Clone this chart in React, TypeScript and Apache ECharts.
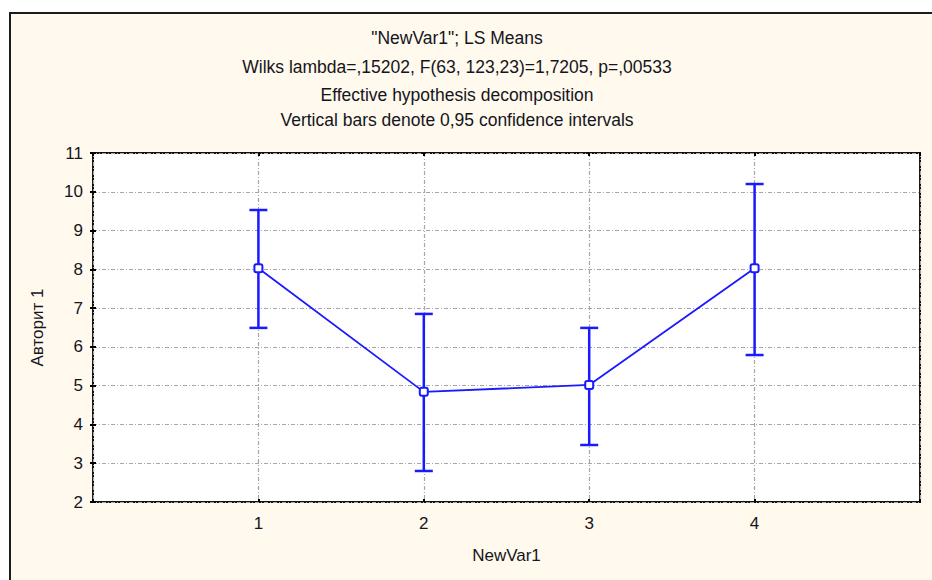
import React, { useEffect, useRef } from "react";
import * as echarts from "echarts";

const categories = ["1", "2", "3", "4"];
const means = [8.03, 4.84, 5.02, 8.03];
const lower = [6.49, 2.8, 3.47, 5.79];
const upper = [9.53, 6.85, 6.49, 10.2];
const yMin = 2;
const yMax = 11;
const titleLines = [
  '"NewVar1"; LS Means',
  "Wilks lambda=,15202, F(63, 123,23)=1,7205, p=,00533",
  "Effective hypothesis decomposition",
  "Vertical bars denote 0,95 confidence intervals",
];
const xName = "NewVar1";
const yName = "Авторит 1";

const FONT = "Liberation Sans, Arial, sans-serif";
const BLUE = "#1a1aff";
const TEXT = "#151520";

export default function App() {
  const ref = useRef<HTMLDivElement>(null);
  useEffect(() => {
    if (!ref.current) return;
    const chart = echarts.init(ref.current, null, { renderer: "svg" });
    const xs = categories.map((_, i) => i + 1);
    const lineData = xs.map((x, i) => [x, means[i]]);
    const errData = xs.map((x, i) => [x, lower[i], upper[i]]);
    const titleY = [38, 67, 95, 120];
    const gridLine = { show: true, lineStyle: { color: "#a6a6a6", type: [4, 2, 1, 2], width: 1.2 } };
    chart.setOption({
      animation: false,
      backgroundColor: "#ffffff",
      textStyle: { fontFamily: FONT },
      graphic: [
        {
          type: "rect",
          z: -10,
          shape: { x: 10, y: 13, width: 940, height: 600 },
          style: { fill: "#fff9ee", stroke: "#1c1c1c", lineWidth: 2 },
        },
        ...titleLines.map((t, i) => ({
          type: "text",
          x: 457,
          y: titleY[i],
          style: {
            text: t,
            fill: TEXT,
            font: `17.5px ${FONT}`,
            textAlign: "center",
            textVerticalAlign: "middle",
          },
        })),
      ],
      grid: {
        show: true,
        left: 93,
        top: 153,
        right: 12,
        bottom: 78,
        backgroundColor: "#ffffff",
        borderColor: "#111",
        borderWidth: 2,
        containLabel: false,
      },
      xAxis: [
        {
          type: "value",
          min: 0,
          max: categories.length + 1,
          interval: 1,
          name: xName,
          nameLocation: "middle",
          nameGap: 45,
          nameTextStyle: { color: TEXT, fontSize: 17, fontFamily: FONT },
          axisLine: { show: false },
          axisTick: { show: true, inside: true, length: 3, lineStyle: { color: "#000", width: 2 } },
          axisLabel: {
            color: TEXT,
            fontSize: 17,
            fontFamily: FONT,
            margin: 13,
            formatter: (v: number) => (v >= 1 && v <= categories.length ? categories[v - 1] : ""),
          },
          splitLine: gridLine,
        },
        {
          type: "value",
          position: "top",
          min: 0,
          max: categories.length + 1,
          interval: 1,
          axisLine: { show: false },
          axisTick: { show: true, inside: true, length: 3, lineStyle: { color: "#000", width: 2 } },
          axisLabel: { show: false },
          splitLine: { show: false },
        },
      ],
      yAxis: [
        {
          type: "value",
          min: yMin,
          max: yMax,
          interval: 1,
          name: yName,
          nameLocation: "middle",
          nameRotate: 90,
          nameGap: 47,
          nameTextStyle: { color: TEXT, fontSize: 17, fontFamily: FONT },
          axisLine: { show: false },
          axisTick: { show: true, inside: true, length: 3, lineStyle: { color: "#000", width: 2 } },
          axisLabel: { color: TEXT, fontSize: 17, fontFamily: FONT, margin: 10 },
          splitLine: gridLine,
        },
        {
          type: "value",
          position: "right",
          min: yMin,
          max: yMax,
          interval: 1,
          axisLine: { show: false },
          axisTick: { show: true, inside: true, length: 3, lineStyle: { color: "#000", width: 2 } },
          axisLabel: { show: false },
          splitLine: { show: false },
        },
      ],
      series: [
        {
          type: "custom",
          xAxisIndex: 0,
          yAxisIndex: 0,
          z: 2,
          data: errData,
          renderItem: (params: any, api: any) => {
            const x = api.value(0);
            const lo = api.coord([x, api.value(1)]);
            const hi = api.coord([x, api.value(2)]);
            const hw = 9;
            const st = { stroke: BLUE, lineWidth: 2.5 };
            return {
              type: "group",
              children: [
                { type: "line", shape: { x1: lo[0], y1: lo[1], x2: hi[0], y2: hi[1] }, style: st },
                { type: "line", shape: { x1: hi[0] - hw, y1: hi[1], x2: hi[0] + hw, y2: hi[1] }, style: st },
                { type: "line", shape: { x1: lo[0] - hw, y1: lo[1], x2: lo[0] + hw, y2: lo[1] }, style: st },
              ],
            };
          },
        },
        {
          type: "line",
          xAxisIndex: 0,
          yAxisIndex: 0,
          z: 3,
          data: lineData,
          symbol: "roundRect",
          symbolSize: 8,
          showSymbol: true,
          lineStyle: { color: BLUE, width: 1.8 },
          itemStyle: { color: "#ffffff", borderColor: BLUE, borderWidth: 2 },
        },
      ],
    });
    return () => chart.dispose();
  }, []);
  return (
    <div
      ref={ref}
      style={{ position: "fixed", left: 0, top: 0, width: 932, height: 580 }}
    />
  );
}
